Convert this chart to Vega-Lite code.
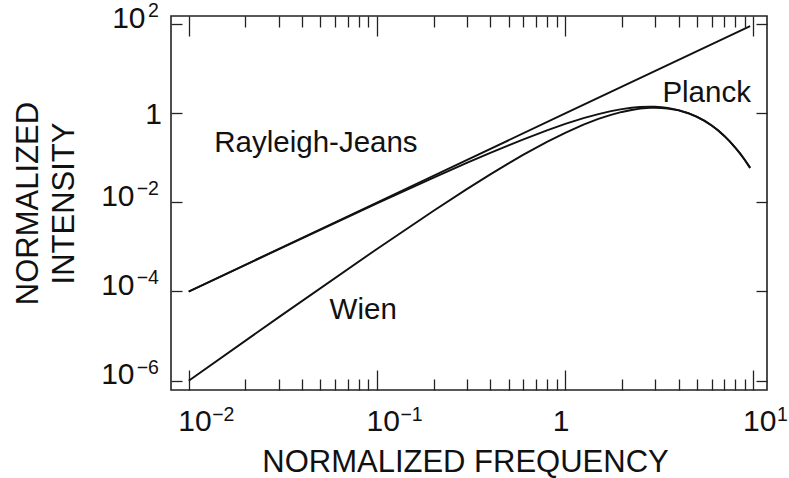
{
  "$schema": "https://vega.github.io/schema/vega-lite/v6.json",
  "width": 596,
  "height": 374,
  "autosize": {"type": "none"},
  "padding": {"left": 171, "top": 16, "right": 22, "bottom": 88},
  "background": "white",
  "config": {
    "view": {"stroke": "#222", "strokeWidth": 1.6},
    "axis": {
      "grid": false,
      "domain": false,
      "labelFont": "Liberation Sans",
      "titleFont": "Liberation Sans",
      "labelColor": "#111",
      "titleColor": "#111",
      "tickColor": "#222",
      "tickWidth": 1.3,
      "labelFlush": false,
      "labelOverlap": false,
      "labelBound": false,
      "titleFontWeight": "normal"
    }
  },
  "datasets": {
    "curves": [
      {"curve": "Rayleigh-Jeans", "x": 0.01, "y": 0.0001},
      {"curve": "Rayleigh-Jeans", "x": 0.1, "y": 0.01},
      {"curve": "Rayleigh-Jeans", "x": 1, "y": 1},
      {"curve": "Rayleigh-Jeans", "x": 9.6, "y": 92.16},
      {"curve": "Wien", "x": 0.01, "y": 9.9005e-7},
      {"curve": "Wien", "x": 0.03, "y": 2.6202e-5},
      {"curve": "Wien", "x": 0.1, "y": 9.0484e-4},
      {"curve": "Wien", "x": 0.2, "y": 0.0065498},
      {"curve": "Wien", "x": 0.3, "y": 0.020002},
      {"curve": "Wien", "x": 0.4, "y": 0.0429},
      {"curve": "Wien", "x": 0.5, "y": 0.075816},
      {"curve": "Wien", "x": 0.6, "y": 0.118543},
      {"curve": "Wien", "x": 0.8, "y": 0.230056},
      {"curve": "Wien", "x": 1.0, "y": 0.367879},
      {"curve": "Wien", "x": 1.25, "y": 0.55958},
      {"curve": "Wien", "x": 1.5, "y": 0.753064},
      {"curve": "Wien", "x": 1.75, "y": 0.93132},
      {"curve": "Wien", "x": 2.0, "y": 1.082682},
      {"curve": "Wien", "x": 2.25, "y": 1.200562},
      {"curve": "Wien", "x": 2.5, "y": 1.282578},
      {"curve": "Wien", "x": 2.82, "y": 1.33671},
      {"curve": "Wien", "x": 3.0, "y": 1.344236},
      {"curve": "Wien", "x": 3.25, "y": 1.331058},
      {"curve": "Wien", "x": 3.5, "y": 1.294697},
      {"curve": "Wien", "x": 4.0, "y": 1.17221},
      {"curve": "Wien", "x": 4.5, "y": 1.012307},
      {"curve": "Wien", "x": 5.0, "y": 0.842243},
      {"curve": "Wien", "x": 5.5, "y": 0.679935},
      {"curve": "Wien", "x": 6.0, "y": 0.535414},
      {"curve": "Wien", "x": 6.5, "y": 0.412882},
      {"curve": "Wien", "x": 7.0, "y": 0.312776},
      {"curve": "Wien", "x": 7.5, "y": 0.23333},
      {"curve": "Wien", "x": 8.0, "y": 0.171757},
      {"curve": "Wien", "x": 8.5, "y": 0.124955},
      {"curve": "Wien", "x": 9.0, "y": 0.089966},
      {"curve": "Wien", "x": 9.6, "y": 0.059922},
      {"curve": "Planck", "x": 0.01, "y": 9.95e-5},
      {"curve": "Planck", "x": 0.03, "y": 8.866e-4},
      {"curve": "Planck", "x": 0.1, "y": 0.009508},
      {"curve": "Planck", "x": 0.2, "y": 0.036133},
      {"curve": "Planck", "x": 0.3, "y": 0.077174},
      {"curve": "Planck", "x": 0.4, "y": 0.130127},
      {"curve": "Planck", "x": 0.5, "y": 0.192687},
      {"curve": "Planck", "x": 0.6, "y": 0.262736},
      {"curve": "Planck", "x": 0.8, "y": 0.417775},
      {"curve": "Planck", "x": 1.0, "y": 0.581977},
      {"curve": "Planck", "x": 1.25, "y": 0.784279},
      {"curve": "Planck", "x": 1.5, "y": 0.969357},
      {"curve": "Planck", "x": 1.75, "y": 1.127197},
      {"curve": "Planck", "x": 2.0, "y": 1.252141},
      {"curve": "Planck", "x": 2.25, "y": 1.342007},
      {"curve": "Planck", "x": 2.5, "y": 1.397273},
      {"curve": "Planck", "x": 2.82, "y": 1.421434},
      {"curve": "Planck", "x": 3.0, "y": 1.414682},
      {"curve": "Planck", "x": 3.25, "y": 1.384739},
      {"curve": "Planck", "x": 3.5, "y": 1.335026},
      {"curve": "Planck", "x": 4.0, "y": 1.194071},
      {"curve": "Planck", "x": 4.5, "y": 1.023679},
      {"curve": "Planck", "x": 5.0, "y": 0.84796},
      {"curve": "Planck", "x": 5.5, "y": 0.68273},
      {"curve": "Planck", "x": 6.0, "y": 0.536741},
      {"curve": "Planck", "x": 6.5, "y": 0.413504},
      {"curve": "Planck", "x": 7.0, "y": 0.313061},
      {"curve": "Planck", "x": 7.5, "y": 0.233463},
      {"curve": "Planck", "x": 8.0, "y": 0.171814},
      {"curve": "Planck", "x": 8.5, "y": 0.124981},
      {"curve": "Planck", "x": 9.0, "y": 0.089977},
      {"curve": "Planck", "x": 9.6, "y": 0.059926}
    ],
    "labels": [
      {"label": "Rayleigh-Jeans", "x": 0.0474, "y": 0.135},
      {"label": "Planck", "x": 5.64, "y": 1.82},
      {"label": "Wien", "x": 0.0845, "y": 2.47e-5}
    ]
  },
  "layer": [
    {
      "data": {"name": "curves"},
      "transform": [{"filter": "datum.curve == 'Rayleigh-Jeans'"}],
      "mark": {"type": "line", "color": "#111", "strokeWidth": 1.9},
      "encoding": {
        "x": {
          "field": "x", "type": "quantitative",
          "scale": {"type": "log", "domain": [0.00805, 11.8], "nice": false},
          "axis": {
            "orient": "bottom", "title": null, "labels": false, "ticks": true,
            "values": [0.01, 0.02, 0.03, 0.04, 0.05, 0.06, 0.07, 0.08, 0.09, 0.1, 0.2, 0.3, 0.4, 0.5, 0.6, 0.7, 0.8, 0.9, 1, 2, 3, 4, 5, 6, 7, 8, 9, 10],
            "tickSize": {"condition": {"test": "datum.value == 0.01 || datum.value == 0.1 || datum.value == 1 || datum.value == 10", "value": -20}, "value": -11}
          }
        },
        "y": {
          "field": "y", "type": "quantitative",
          "scale": {"type": "log", "domain": [6.12e-7, 155], "nice": false},
          "axis": {
            "orient": "left", "title": null, "labels": false, "ticks": true,
            "values": [1e-6, 1e-4, 0.01, 1, 100], "tickSize": -11
          }
        }
      }
    },
    {
      "data": {"name": "curves"},
      "transform": [{"filter": "datum.curve == 'Wien'"}],
      "mark": {"type": "line", "color": "#111", "strokeWidth": 1.9},
      "encoding": {
        "x": {
          "field": "x", "type": "quantitative",
          "scale": {"type": "log", "domain": [0.00805, 11.8], "nice": false},
          "axis": {
            "orient": "top", "title": null, "labels": false, "ticks": true,
            "values": [0.01, 0.02, 0.03, 0.04, 0.05, 0.06, 0.07, 0.08, 0.09, 0.1, 0.2, 0.3, 0.4, 0.5, 0.6, 0.7, 0.8, 0.9, 1, 2, 3, 4, 5, 6, 7, 8, 9, 10],
            "tickSize": {"condition": {"test": "datum.value == 0.01 || datum.value == 0.1 || datum.value == 1 || datum.value == 10", "value": -20}, "value": -11}
          }
        },
        "y": {
          "field": "y", "type": "quantitative",
          "scale": {"type": "log", "domain": [6.12e-7, 155], "nice": false},
          "axis": {
            "orient": "right", "title": null, "labels": false, "ticks": true,
            "values": [1e-6, 1e-4, 0.01, 1, 100], "tickSize": -11
          }
        }
      }
    },
    {
      "data": {"name": "curves"},
      "transform": [{"filter": "datum.curve == 'Planck'"}],
      "mark": {"type": "line", "color": "#111", "strokeWidth": 1.9},
      "encoding": {
        "x": {
          "field": "x", "type": "quantitative",
          "scale": {"type": "log", "domain": [0.00805, 11.8], "nice": false},
          "axis": {
            "orient": "bottom", "ticks": false,
            "values": [0.01, 0.1, 1, 10],
            "labelExpr": "datum.value == 1 ? '1' : '10'",
            "labelFontSize": 30, "labelAlign": "left", "labelBaseline": "alphabetic",
            "labelPadding": 40,
            "labelOffset": {"condition": {"test": "datum.value == 1", "value": -13}, "value": -11},
            "title": "NORMALIZED FREQUENCY", "titleFontSize": 31,
            "titleX": 294, "titleY": 81, "titleAlign": "center", "titleBaseline": "alphabetic"
          }
        },
        "y": {
          "field": "y", "type": "quantitative",
          "scale": {"type": "log", "domain": [6.12e-7, 155], "nice": false},
          "axis": {
            "orient": "left", "ticks": false,
            "values": [1e-6, 1e-4, 0.01, 1, 100],
            "labelExpr": "datum.value == 1 ? '1' : '10'",
            "labelFontSize": 30, "labelAlign": "right", "labelBaseline": "alphabetic",
            "labelPadding": {"condition": [{"test": "datum.value == 1", "value": 9.5}, {"test": "datum.value == 100", "value": 26}], "value": 37},
            "labelOffset": {"condition": {"test": "datum.value == 1", "value": 10.5}, "value": 3},
            "title": ["NORMALIZED", "INTENSITY"], "titleFontSize": 31, "titleLineHeight": 36,
            "titleX": -134, "titleY": 187, "titleAngle": 270, "titleAlign": "center", "titleBaseline": "alphabetic"
          }
        }
      }
    },
    {
      "data": {"name": "labels"},
      "mark": {"type": "text", "font": "Liberation Sans", "fontSize": 29.5, "color": "#111", "align": "center", "baseline": "alphabetic"},
      "encoding": {
        "x": {
          "field": "x", "type": "quantitative",
          "scale": {"type": "log", "domain": [0.00805, 11.8], "nice": false},
          "axis": {
            "orient": "bottom", "ticks": false, "title": null,
            "values": [0.01, 0.1, 1, 10],
            "labelExpr": "datum.value < 0.05 ? '−2' : datum.value < 0.5 ? '−1' : datum.value > 5 ? '1' : ''",
            "labelFontSize": 19.5, "labelAlign": "left", "labelBaseline": "alphabetic",
            "labelPadding": 30, "labelOffset": 23
          }
        },
        "y": {
          "field": "y", "type": "quantitative",
          "scale": {"type": "log", "domain": [6.12e-7, 155], "nice": false},
          "axis": {
            "orient": "left", "ticks": false, "title": null,
            "values": [1e-6, 1e-4, 0.01, 1, 100],
            "labelExpr": "datum.value < 1e-5 ? '−6' : datum.value < 1e-3 ? '−4' : datum.value < 0.1 ? '−2' : datum.value > 10 ? '2' : ''",
            "labelFontSize": 19.5, "labelAlign": "right", "labelBaseline": "alphabetic",
            "labelPadding": 12.6, "labelOffset": -7.5
          }
        },
        "text": {"field": "label", "type": "nominal"}
      }
    }
  ],
  "resolve": {"axis": {"x": "independent", "y": "independent"}}
}
